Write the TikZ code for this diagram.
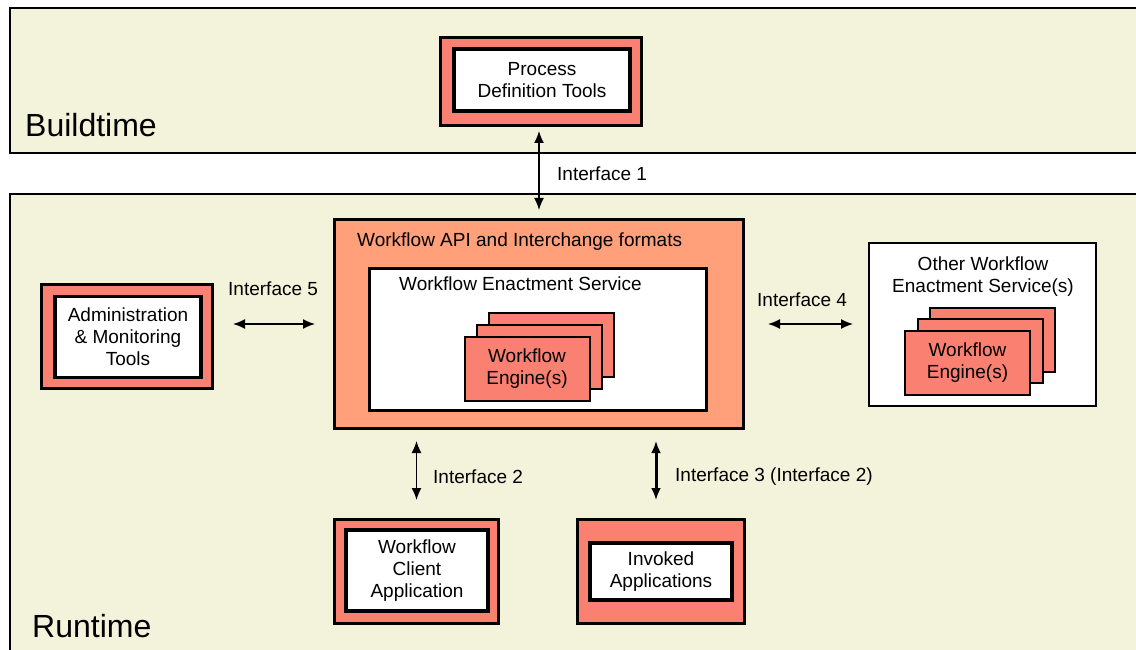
\documentclass[tikz,border=0pt]{standalone}
\usepackage{fontspec}
\setmainfont{Liberation Sans}
\usetikzlibrary{arrows.meta,calc}
\definecolor{panelbg}{HTML}{F3F2DA}
\definecolor{salmonc}{HTML}{FA8072}
\definecolor{peachc}{HTML}{FFA07A}
\begin{document}
\begin{tikzpicture}[x=1pt,y=-1pt,
  txt/.style={font=\fontsize{19}{22}\selectfont,inner sep=0pt},
  bigtxt/.style={font=\fontsize{32}{36}\selectfont,inner sep=0pt},
  panelline/.style={draw=black,line width=2pt},
  outerbox/.style={draw=black,line width=3pt,fill=salmonc,inner sep=0pt},
  innerbox/.style={draw=black,line width=3.5pt,fill=white,inner sep=0pt,align=center,txt},
  apibox/.style={draw=black,line width=3pt,fill=peachc,inner sep=0pt},
  wesbox/.style={draw=black,line width=3pt,fill=white,inner sep=0pt},
  otherbox/.style={draw=black,line width=2pt,fill=white,inner sep=0pt},
  engine/.style={draw=black,line width=2pt,fill=salmonc,inner sep=0pt,minimum width=125pt,minimum height=64pt},
  tip/.tip={Latex[length=12pt,width=10pt]},
  iface/.style={line width=1.5pt,tip-tip},
  ifacebold/.style={line width=3pt,tip-tip}
]
\useasboundingbox (0,0) rectangle (1136,650);
\fill[white] (0,0) rectangle (1136,650);

% panels
\fill[panelbg] (10,8) rectangle (1145,153);
\draw[panelline] (1145,8) -- (10,8) -- (10,153) -- (1145,153);
\fill[panelbg] (10,194) rectangle (1145,660);
\draw[panelline] (1145,194) -- (10,194) -- (10,660);
\node[bigtxt,anchor=base west] (buildlbl) at (25,137) {Buildtime};
\node[bigtxt,anchor=base west] (runlbl) at (32,637) {Runtime};

% Process Definition Tools
\node[outerbox,minimum width=201pt,minimum height=88pt] (pdt) at (541,81.5) {};
\node[innerbox,minimum width=176pt,minimum height=62pt] (pdtin) at (542,80) {Process\\Definition Tools};

% Workflow API
\node[apibox,minimum width=409pt,minimum height=209pt] (api) at (539,324) {};
\node[txt,anchor=base west] (apilbl) at (357,246) {Workflow API and Interchange formats};
\node[wesbox,minimum width=337pt,minimum height=142pt] (wes) at (538,339.5) {};
\node[txt,anchor=base west] (weslbl) at (399,290) {Workflow Enactment Service};
\node[engine] (eng3) at (551,345) {};
\node[engine] (eng2) at (539,357) {};
\node[engine,txt,align=center] (eng1) at (527,369) {Workflow\\Engine(s)};

% Admin
\node[outerbox,minimum width=171pt,minimum height=104pt] (admin) at (127,336.5) {};
\node[innerbox,minimum width=146pt,minimum height=81pt] (adminin) at (128,337) {Administration\\\& Monitoring\\Tools};

% Other WES
\node[otherbox,minimum width=227pt,minimum height=163pt] (other) at (982.5,324.5) {};
\node[txt,align=center] (otherlbl) at (983,277) {Other Workflow\\Enactment Service(s)};
\node[engine] (oeng3) at (992,339.5) {};
\node[engine] (oeng2) at (980,351) {};
\node[engine,txt,align=center] (oeng1) at (967.5,362.5) {Workflow\\Engine(s)};

% Client application
\node[outerbox,minimum width=164pt,minimum height=104pt] (client) at (416.5,571.5) {};
\node[innerbox,minimum width=142pt,minimum height=81pt] (clientin) at (417,570.5) {Workflow\\Client\\Application};

% Invoked applications
\node[outerbox,minimum width=167pt,minimum height=104pt] (invoked) at (661,571.5) {};
\node[innerbox,minimum width=142pt,minimum height=57pt] (invokedin) at (661,571.5) {Invoked\\Applications};

% interfaces
\draw[iface,shorten <=4pt,shorten >=8pt] (pdt.south -| api.north) -- (api.north);
\node[txt,anchor=west] (if1) at (557,174) {Interface 1};

\draw[iface,shorten <=19pt,shorten >=18pt] (admin.east |- api.west) -- (api.west);
\node[txt,anchor=west] (if5) at (228,289) {Interface 5};

\draw[iface,shorten <=23pt,shorten >=15pt] (api.east) -- (other.west |- api.east);
\node[txt,anchor=west] (if4) at (757,300) {Interface 4};

\draw[iface,shorten <=11pt,shorten >=18pt] (client.north |- api.south) -- (client.north);
\node[txt,anchor=west] (if2) at (433,477) {Interface 2};

\draw[ifacebold,shorten <=11pt,shorten >=18pt] ([xshift=-5pt]invoked.north |- api.south) -- ([xshift=-5pt]invoked.north);
\node[txt,anchor=west] (if3) at (675,477) {Interface 3 (Interface 2)};
\end{tikzpicture}
\end{document}
